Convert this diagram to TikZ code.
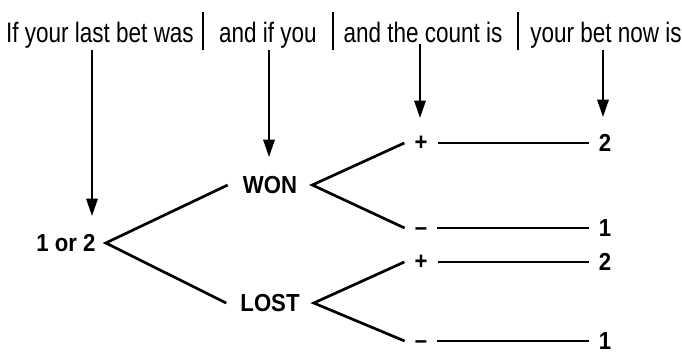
\documentclass[tikz,border=0pt]{standalone}
\usepackage{fontspec}
\setmainfont{Liberation Sans}
\newfontfamily\headfont[FakeStretch=0.8,Ligatures=TeX]{Liberation Sans}
\newfontfamily\treefont[FakeStretch=0.9,Ligatures=TeX]{Liberation Sans}
\usetikzlibrary{arrows.meta}

\begin{document}
\begin{tikzpicture}[x=0.03cm,y=-0.03cm,
    >={Triangle[length=0.52cm,width=0.34cm]},
    head/.style={anchor=base,inner sep=0.05cm,font=\headfont\fontsize{24pt}{28pt}\selectfont},
    lbl/.style={inner ysep=0.05cm,font=\treefont\fontsize{21pt}{24pt}\selectfont\bfseries},
    sign/.style={lbl,inner xsep=0.3cm,text height=12pt,text depth=0pt},
    num/.style={lbl,inner xsep=0.3cm},
    branch/.style={line width=2.3pt},
    arr/.style={->,line width=1.8pt}]
  \useasboundingbox (0,0) rectangle (682,354);
  % column headings
  \node[head] (h1) at (100,42) {If your last bet was};
  \node[head] (h2) at (268,42) {and if you};
  \node[head] (h3) at (423,42) {and the count is};
  \node[head] (h4) at (606,42) {your bet now is};
  \draw[line width=1.6pt] (203,12)--(203,50) (333,12)--(333,50) (518,12)--(518,50);
  % tree
  \node[lbl,inner xsep=0.3cm] (bet) at (66,243) {1 or 2};
  \node[lbl,inner xsep=0.45cm] (won) at (270,185) {WON};
  \node[lbl,inner xsep=0.42cm] (lost) at (270,303) {LOST};
  \node[sign] (p1) at (421,143) {+};
  \node[sign] (m1) at (421,228) {\textendash};
  \node[sign] (p2) at (421,262) {+};
  \node[sign] (m2) at (421,341) {\textendash};
  \node[num] (n1) at (605,143) {2};
  \node[num] (n2) at (605,228) {1};
  \node[num] (n3) at (605,262) {2};
  \node[num] (n4) at (605,341) {1};
  \draw[branch] (won.west)--(bet.east)--(lost.west);
  \draw[branch] (p1.west)--(won.east)--(m1.west);
  \draw[branch] (p2.west)--(lost.east)--(m2.west);
  \foreach \s/\n in {p1/n1,m1/n2,p2/n3,m2/n4}
    \draw[branch] (\s.east)--(\s.east-|\n.west);
  % arrows down from the headings
  \coordinate (t1) at (92,216);
  \coordinate (t2) at (269,157);
  \coordinate (t3) at (420,118);
  \coordinate (t4) at (603,117);
  \draw[arr] (h1.south-|t1)--(t1);
  \draw[arr] (h2.south-|t2)--(t2);
  \draw[arr] (h3.south-|t3)--(t3);
  \draw[arr] (h4.south-|t4)--(t4);
\end{tikzpicture}
\end{document}
